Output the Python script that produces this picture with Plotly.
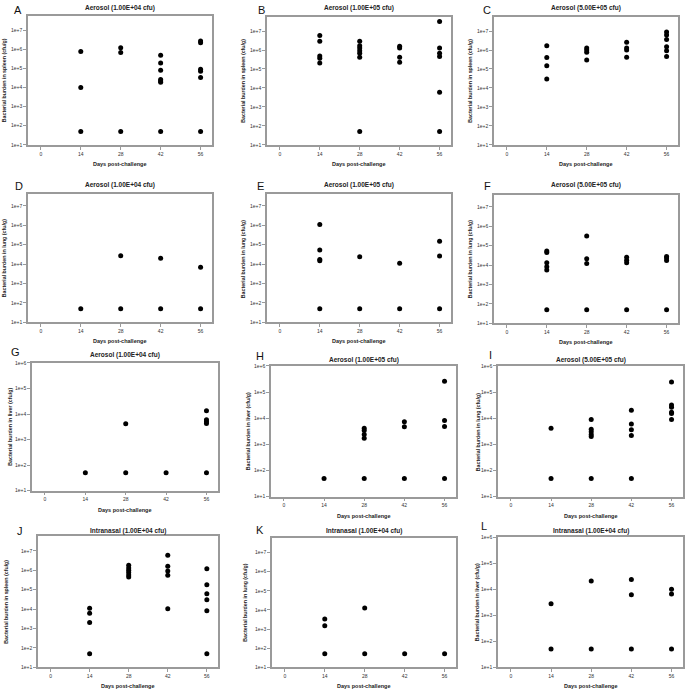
import plotly.graph_objects as go

# ---------------- data ----------------
DAYS = [14, 28, 42, 56]
X_TICKS = [0, 14, 28, 42, 56]
Y_TICKVALS = [1e1, 1e2, 1e3, 1e4, 1e5, 1e6, 1e7]
Y_TICKTEXT = ["1e+1", "1e+2", "1e+3", "1e+4", "1e+5", "1e+6", "1e+7"]

# values per day (14, 28, 42, 56) for each panel (cfu/g)
A_vals = [[7.6e5, 1.0e4, 50], [1.2e6, 6.7e5, 50],
          [4.9e5, 1.9e5, 8.0e4, 2.6e4, 2.2e4, 1.9e4, 50], [2.7e6, 2.2e6, 8.9e4, 7.0e4, 3.3e4, 50]]
B_vals = [[5.8e6, 2.9e6, 4.9e5, 3.7e5, 2.1e5], [2.9e6, 1.7e6, 1.3e6, 9.3e5, 6.7e5, 4.2e5, 50],
          [1.6e6, 1.3e6, 4.2e5, 2.3e5], [3.2e7, 1.3e6, 6.7e5, 4.5e5, 6.0e3, 50]]
C_vals = [[1.7e6, 4.0e5, 1.5e5, 3.0e4], [1.3e6, 1.0e6, 7.6e5, 3.0e5],
          [2.6e6, 1.3e6, 1.0e6, 4.2e5], [8.9e6, 6.3e6, 3.6e6, 1.5e6, 9.3e5, 4.5e5]]
D_vals = [[50], [2.7e4, 50], [2.0e4, 50], [6.9e3, 50]]
E_vals = [[1.1e6, 5.4e4, 1.7e4, 1.5e4, 50], [2.4e4, 50], [1.1e4, 50], [1.5e5, 2.6e4, 50]]
F_vals = [[5.3e4, 4.4e4, 1.3e4, 8.2e3, 5.5e3, 50], [3.2e5, 2.1e4, 1.2e4, 50],
          [2.5e4, 1.8e4, 1.3e4, 50], [2.8e4, 2.3e4, 1.7e4, 50]]
G_vals = [[50], [4.2e3, 50], [50], [1.35e4, 5.9e3, 5.0e3, 4.3e3, 50]]
H_vals = [[50], [4.1e3, 3.4e3, 2.4e3, 1.7e3, 50], [7.3e3, 4.7e3, 50], [2.6e5, 8.2e3, 4.8e3, 50]]
I_vals = [[4.1e3, 50], [8.9e3, 3.8e3, 3.0e3, 2.4e3, 2.0e3, 50],
          [2.0e4, 6.0e3, 3.6e3, 2.2e3, 50], [2.4e5, 3.2e4, 2.6e4, 1.7e4, 1.5e4, 8.9e3]]
J_vals = [[1.1e4, 6.0e3, 2.0e3, 50], [1.8e6, 1.3e6, 1.0e6, 7.6e5, 5.7e5, 4.5e5],
          [6.0e6, 1.6e6, 9.3e5, 5.5e5, 1.05e4], [1.2e6, 1.8e5, 6.2e4, 3.0e4, 8.2e3, 50]]
K_vals = [[3.3e3, 1.5e3, 50], [1.27e4, 50], [50], [50]]
L_vals = [[2.8e3, 50], [2.1e4, 50], [2.4e4, 6.2e3, 50], [1.0e4, 6.6e3, 50]]

LETTERS = list("ABCDEFGHIJKL")
TITLES = ["Aerosol (1.00E+04 cfu)", "Aerosol (1.00E+05 cfu)", "Aerosol (5.00E+05 cfu)"] * 3 + \
         ["Intranasal (1.00E+04 cfu)"] * 3
YLABELS = ["Bacterial burden in spleen (cfu/g)"] * 3 + ["Bacterial burden in lung (cfu/g)"] * 3 + \
          ["Bacterial burden in liver (cfu/g)", "Bacterial burden in liver (cfu/g)",
           "Bacterial burden in lung (cfu/g)",
           "Bacterial burden in spleen (cfu/g)", "Bacterial burden in lung (cfu/g)",
           "Bacterial burden in liver (cfu/g)"]
VALUES = [A_vals, B_vals, C_vals, D_vals, E_vals, F_vals, G_vals, H_vals, I_vals, J_vals, K_vals, L_vals]
YTOP = [7.75] * 3 + [7.6] * 3 + [6, 6, 6] + [7.75, 7.75, 6]

# ---------------- layout (pixels) ----------------
W, H = 685, 693
BOXES = [(28, 212, 13, 143), (267, 451, 14, 143), (494, 678, 14, 143),
         (28, 212, 193, 322), (267, 451, 193, 322), (494, 678, 194, 323),
         (32, 218, 363, 492), (271, 456, 366, 498), (498, 683, 366, 498),
         (38, 218, 538, 670), (272, 456, 540, 670), (498, 683, 539, 670)]
TITLE_Y = [5, 5, 5, 184, 184, 184, 355, 360, 360, 533, 533, 533]
LETTER_POS = [(18, 7), (261, 7), (487, 7), (19, 185), (260, 185), (487, 185),
              (15, 352), (260, 356), (490, 355), (20, 533), (260, 532), (484, 528)]
YTITLE_X = [4, 243, 470, 4, 243, 470, 10, 248, 478, 6, 245, 477]

FONT = "Arial, Liberation Sans, sans-serif"
FRAME = "#9a9a9a"

fig = go.Figure()
annotations = []
layout = dict(width=W, height=H, margin=dict(l=0, r=0, t=0, b=0),
              paper_bgcolor="white", plot_bgcolor="white", showlegend=False,
              font=dict(family=FONT, color="#222"))

for i in range(12):
    sfx = "" if i == 0 else str(i + 1)
    x0, x1, y0, y1 = BOXES[i]
    xs, ys = [], []
    for d, vals in zip(DAYS, VALUES[i]):
        xs += [d] * len(vals)
        ys += vals
    fig.add_trace(go.Scatter(x=xs, y=ys, mode="markers", xaxis="x" + sfx, yaxis="y" + sfx,
                             marker=dict(size=5, color="black"), hoverinfo="skip", cliponaxis=False))
    layout["xaxis" + sfx] = dict(
        domain=[x0 / W, x1 / W], anchor="y" + sfx, range=[-4.5, 60],
        tickvals=X_TICKS, ticks="outside", ticklen=3, tickwidth=1, tickcolor=FRAME,
        tickfont=dict(size=5, color="#333"), showgrid=False, zeroline=False,
        showline=True, mirror=True, linecolor=FRAME, linewidth=1.5)
    layout["yaxis" + sfx] = dict(
        domain=[1 - y1 / H, 1 - y0 / H], anchor="x" + sfx, type="log", range=[1, YTOP[i]],
        tickvals=Y_TICKVALS, ticktext=Y_TICKTEXT, ticks="outside", ticklen=3, tickwidth=1,
        tickcolor=FRAME, tickfont=dict(size=5, color="#333"), showgrid=False, zeroline=False,
        showline=True, mirror=True, linecolor=FRAME, linewidth=1.5)
    cx = (x0 + x1) / 2
    annotations.append(dict(text="<b>" + TITLES[i] + "</b>", x=cx / W, y=1 - TITLE_Y[i] / H,
                            xref="paper", yref="paper", showarrow=False,
                            font=dict(size=6.5, color="#222"), xanchor="center", yanchor="middle"))
    annotations.append(dict(text="<b>Days post-challenge</b>", x=cx / W, y=1 - (y1 + 19) / H,
                            xref="paper", yref="paper", showarrow=False,
                            font=dict(size=5.5, color="#222"), xanchor="center", yanchor="middle"))
    annotations.append(dict(text="<b>" + YLABELS[i] + "</b>", x=YTITLE_X[i] / W,
                            y=1 - ((y0 + y1) / 2) / H, xref="paper", yref="paper", showarrow=False,
                            textangle=-90, font=dict(size=5.3, color="#222"),
                            xanchor="center", yanchor="middle"))
    lx, ly = LETTER_POS[i]
    annotations.append(dict(text=LETTERS[i], x=lx / W, y=1 - ly / H, xref="paper", yref="paper",
                            showarrow=False, font=dict(size=11, color="#111"),
                            xanchor="center", yanchor="middle"))

layout["annotations"] = annotations
fig.update_layout(**layout)
fig.write_html("out.html", config={"displayModeBar": False},
               post_script="document.body.style.margin='0px';document.body.style.padding='0px';"
                           "document.body.style.overflow='hidden';")
